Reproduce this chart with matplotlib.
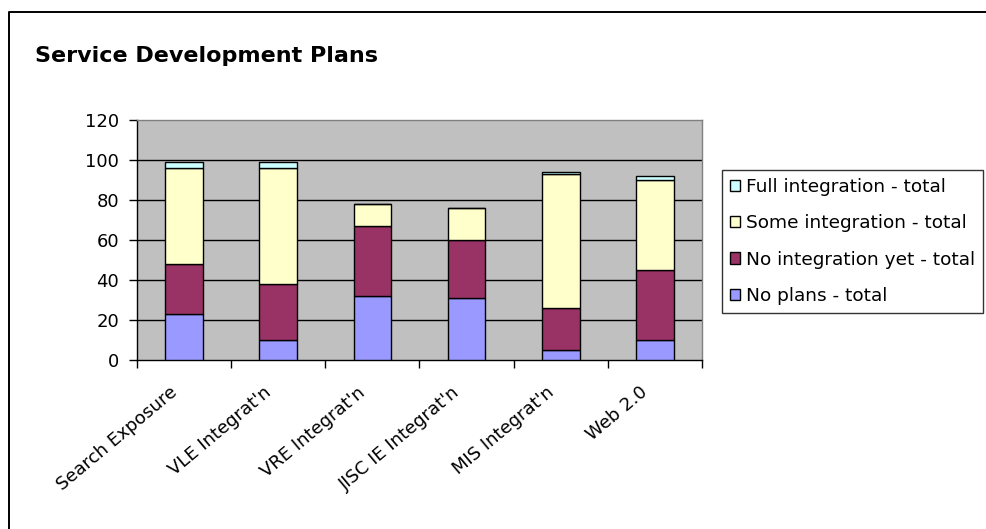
import matplotlib
matplotlib.use("Agg")
import matplotlib.pyplot as plt
import matplotlib.transforms as mtransforms
import numpy as np
from matplotlib.lines import Line2D

categories = ["Search Exposure", "VLE Integrat'n", "VRE Integrat'n",
              "JISC IE Integrat'n", "MIS Integrat'n", "Web 2.0"]
no_plans = [23, 10, 32, 31, 5, 10]
no_integration = [25, 28, 35, 29, 21, 35]
some_integration = [48, 58, 11, 16, 67, 45]
full_integration = [3, 3, 0, 0, 1, 2]

series = [
    ("No plans - total", no_plans, "#9999FF"),
    ("No integration yet - total", no_integration, "#993366"),
    ("Some integration - total", some_integration, "#FFFFCC"),
    ("Full integration - total", full_integration, "#CCFFFF"),
]

plt.rcParams["font.family"] = "DejaVu Sans"

fig = plt.figure(figsize=(9.87, 5.29), dpi=100)
ax = fig.add_axes([0.1388, 0.3195, 0.5724, 0.4537])
ax.set_facecolor("#C0C0C0")

x = np.arange(len(categories))
bottom = np.zeros(len(categories))
handles = []
for name, vals, col in series:
    bars = ax.bar(x, vals, width=0.4, bottom=bottom, color=col,
                  edgecolor="black", linewidth=1.0, label=name, zorder=3)
    bottom += np.array(vals)
    handles.append(bars)

ax.set_xlim(-0.5, len(categories) - 0.5)
ax.set_ylim(0, 120)
ax.set_yticks(range(0, 121, 20))
ax.tick_params(axis="y", direction="out", length=6, width=1, labelsize=13,
               pad=7)
for v in range(20, 120, 20):
    ax.axhline(v, color="black", linewidth=1.0, zorder=1)

# category labels at centres, tick marks on the boundaries
ax.set_xticks(x)
ax.set_xticklabels(categories, rotation=40, ha="right", va="top",
                   rotation_mode="anchor", fontsize=13)
ax.tick_params(axis="x", which="major", length=0, pad=14)
shift = mtransforms.ScaledTranslation(-15 / 100, -4 / 100, fig.dpi_scale_trans)
for lbl in ax.get_xticklabels():
    lbl.set_transform(lbl.get_transform() + shift)
ax.set_xticks(np.arange(-0.5, len(categories)), minor=True)
ax.tick_params(axis="x", which="minor", direction="out", length=6, width=1)

for s in ("left", "bottom"):
    ax.spines[s].set_color("black")
    ax.spines[s].set_linewidth(1.0)
for s in ("top", "right"):
    ax.spines[s].set_color("#808080")
    ax.spines[s].set_linewidth(1.0)

fig.text(35 / 987, 1 - 62 / 529, "Service Development Plans",
         fontsize=16, fontweight="bold", ha="left", va="baseline")

leg = fig.legend(handles[::-1], [s[0] for s in series][::-1],
                 loc="upper left", bbox_to_anchor=(722 / 987, 1 - 170 / 529),
                 frameon=True, fancybox=False, edgecolor="black",
                 fontsize=13.3, handlelength=0.55, handleheight=0.55,
                 handletextpad=0.3, labelspacing=0.98, borderpad=0.45,
                 borderaxespad=0)
leg.get_frame().set_linewidth(1.0)

# outer chart border (runs off the right and bottom edges)
fig.add_artist(Line2D([9 / 987, 9 / 987, 1.05], [-0.05, 1 - 12 / 529, 1 - 12 / 529],
                      transform=fig.transFigure, color="black", linewidth=1.4))

fig.savefig("out.png", dpi=100, facecolor="white")
